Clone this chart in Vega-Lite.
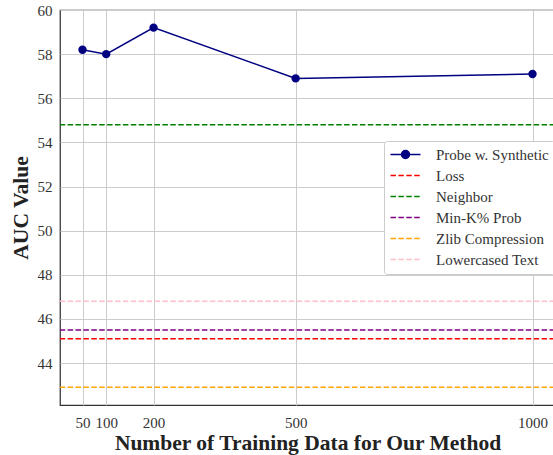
{
  "$schema": "https://vega.github.io/schema/vega-lite/v6.json",
  "autosize": {"type": "none"},
  "padding": {"left": 60, "top": 10, "right": 0, "bottom": 50},
  "width": 495,
  "height": 395,
  "background": "white",
  "config": {
    "view": {"stroke": "#333333", "strokeWidth": 1.25},
    "font": "Liberation Serif",
    "axis": {
      "labelFont": "Liberation Serif",
      "labelFontSize": 15,
      "labelColor": "#333333",
      "titleFont": "Liberation Serif",
      "titleFontSize": 21.5,
      "titleFontWeight": "bold",
      "titleColor": "#222222",
      "gridColor": "#cccccc",
      "gridWidth": 1,
      "domain": false,
      "ticks": false
    }
  },
  "datasets": {
    "probe": [
      {"n": 50, "auc": 58.2, "method": "Probe w. Synthetic"},
      {"n": 100, "auc": 58.0, "method": "Probe w. Synthetic"},
      {"n": 200, "auc": 59.2, "method": "Probe w. Synthetic"},
      {"n": 500, "auc": 56.9, "method": "Probe w. Synthetic"},
      {"n": 1000, "auc": 57.1, "method": "Probe w. Synthetic"}
    ],
    "baselines": [
      {"method": "Loss", "auc": 45.1},
      {"method": "Neighbor", "auc": 54.8},
      {"method": "Min-K% Prob", "auc": 45.5},
      {"method": "Zlib Compression", "auc": 42.9},
      {"method": "Lowercased Text", "auc": 46.8}
    ]
  },
  "layer": [
    {
      "data": {"name": "baselines"},
      "mark": {"type": "rule", "strokeDash": [5.5, 2.4], "strokeWidth": 1.5},
      "encoding": {
        "y": {"field": "auc", "type": "quantitative"},
        "color": {"field": "method", "type": "nominal"}
      }
    },
    {
      "data": {"name": "probe"},
      "mark": {"type": "line", "strokeWidth": 1.5},
      "encoding": {
        "x": {
          "field": "n",
          "type": "quantitative",
          "scale": {"domain": [2.5, 1047.5], "nice": false, "zero": false},
          "axis": {
            "values": [50, 100, 200, 500, 1000],
            "format": "d",
            "title": "Number of Training Data for Our Method",
            "labelPadding": 10,
            "titlePadding": 2
          }
        },
        "y": {
          "field": "auc",
          "type": "quantitative",
          "scale": {"domain": [42.1, 60], "nice": false, "zero": false},
          "axis": {
            "values": [44, 46, 48, 50, 52, 54, 56, 58, 60],
            "title": "AUC Value",
            "labelPadding": 8,
            "titlePadding": 5
          }
        },
        "color": {
          "field": "method",
          "type": "nominal",
          "scale": {
            "domain": ["Probe w. Synthetic", "Loss", "Neighbor", "Min-K% Prob", "Zlib Compression", "Lowercased Text"],
            "range": ["#000080", "#ff0000", "#008000", "#800080", "#ffa500", "#ffc0cb"]
          },
          "legend": {
            "title": null,
            "orient": "none",
            "legendX": 324,
            "legendY": 131,
            "padding": 6,
            "strokeColor": "#cccccc",
            "fillColor": "white",
            "cornerRadius": 3,
            "symbolType": "M-1.4,0L4.6,0",
            "symbolSize": 100,
            "symbolStrokeWidth": 1.5,
            "rowPadding": 5,
            "labelFont": "Liberation Serif",
            "labelFontSize": 15,
            "labelColor": "#333333",
            "labelOffset": 31,
            "encode": {
              "symbols": {
                "update": {
                  "shape": {"signal": "datum.value === 'Probe w. Synthetic' ? 'M-1.4,0L4.6,0M0.8,0A0.8,0.8 0 1,0 2.4,0A0.8,0.8 0 1,0 0.8,0' : 'M-1.4,0L4.6,0'"},
                  "strokeDash": {"signal": "datum.value === 'Probe w. Synthetic' ? [] : [5.5, 2.4]"},
                  "fill": {"signal": "datum.value === 'Probe w. Synthetic' ? '#000080' : 'transparent'"}
                }
              }
            }
          }
        }
      }
    },
    {
      "data": {"name": "probe"},
      "mark": {"type": "point", "filled": true, "opacity": 1, "size": 70},
      "encoding": {
        "x": {"field": "n", "type": "quantitative"},
        "y": {"field": "auc", "type": "quantitative"},
        "color": {"field": "method", "type": "nominal"}
      }
    }
  ]
}
